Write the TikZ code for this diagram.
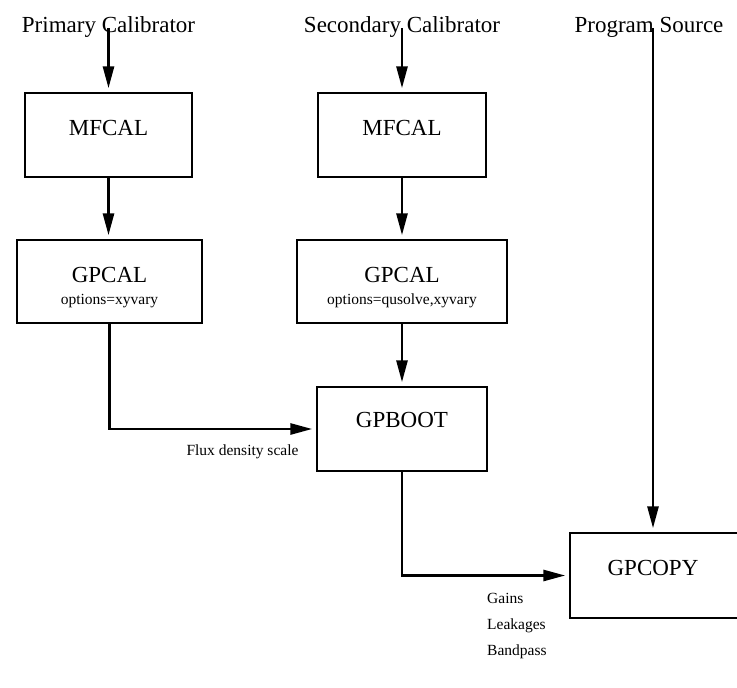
\documentclass[tikz,border=0pt]{standalone}
\usepackage{fontspec}
\setmainfont{Liberation Serif}
\usetikzlibrary{arrows.meta}
\begin{document}
\begin{tikzpicture}[x=1pt,y=-1pt,
  box/.style={draw,line width=1.4pt,inner sep=0pt},
  big/.style={font=\fontsize{23}{26}\selectfont,inner sep=0pt},
  small/.style={font=\fontsize{15.5}{18}\selectfont,inner sep=0pt},
  arr/.style={line width=2.8pt,-{Triangle[length=22pt,width=11pt]},shorten >=4pt}]
\useasboundingbox (0,0) rectangle (737,688);
% titles
\node[big,anchor=base] (t1) at (108.5,32) {Primary Calibrator};
\node[big,anchor=base] (t2) at (402,32) {Secondary Calibrator};
\node[big,anchor=base] (t3) at (649,32) {Program Source};
% boxes
\node[box,minimum width=167pt,minimum height=84pt] (m1) at (108.5,135) {};
\node[box,minimum width=168pt,minimum height=84pt] (m2) at (402,135) {};
\node[box,minimum width=185pt,minimum height=83pt] (g1) at (109.5,281.5) {};
\node[box,minimum width=210pt,minimum height=83pt] (g2) at (402,281.5) {};
\node[box,minimum width=170pt,minimum height=84pt] (boot) at (402,429) {};
\node[box,minimum width=172pt,minimum height=85pt] (copy) at (656,575.5) {};
% box texts
\node[big] (m1t) at (108.5,128) {MFCAL};
\node[big] (m2t) at (402,128) {MFCAL};
\node[big] (g1t) at (109.5,275) {GPCAL};
\node[small] (g1o) at (109.5,301) {options=xyvary};
\node[big] (g2t) at (402,275) {GPCAL};
\node[small] (g2o) at (402,301) {options=qusolve,xyvary};
\node[big] (boott) at (402,420) {GPBOOT};
\node[big] (copyt) at (653,568) {GPCOPY};
% labels
\node[small] (flux) at (242.5,452) {Flux density scale};
\node[small,anchor=west] (gains) at (487,598) {Gains};
\node[small,anchor=west] (leak) at (487,626) {Leakages};
\node[small,anchor=west] (band) at (487,652) {Bandpass};
% connectors
\draw[arr] ([yshift=4pt]t1.base -| m1.north) -- (m1.north);
\draw[arr] ([yshift=4pt]t2.base -| m2.north) -- (m2.north);
\draw[arr] ([yshift=4pt]t3.base -| copyt.north) -- (copyt.north |- copy.north);
\draw[arr] (m1.south) -- (m1.south |- g1.north);
\draw[arr] (m2.south) -- (g2.north);
\draw[arr] (g2.south) -- (boot.north);
\draw[arr] (g1.south) |- (boot.west);
\draw[arr] (boot.south) |- (copy.west);
\end{tikzpicture}
\end{document}
